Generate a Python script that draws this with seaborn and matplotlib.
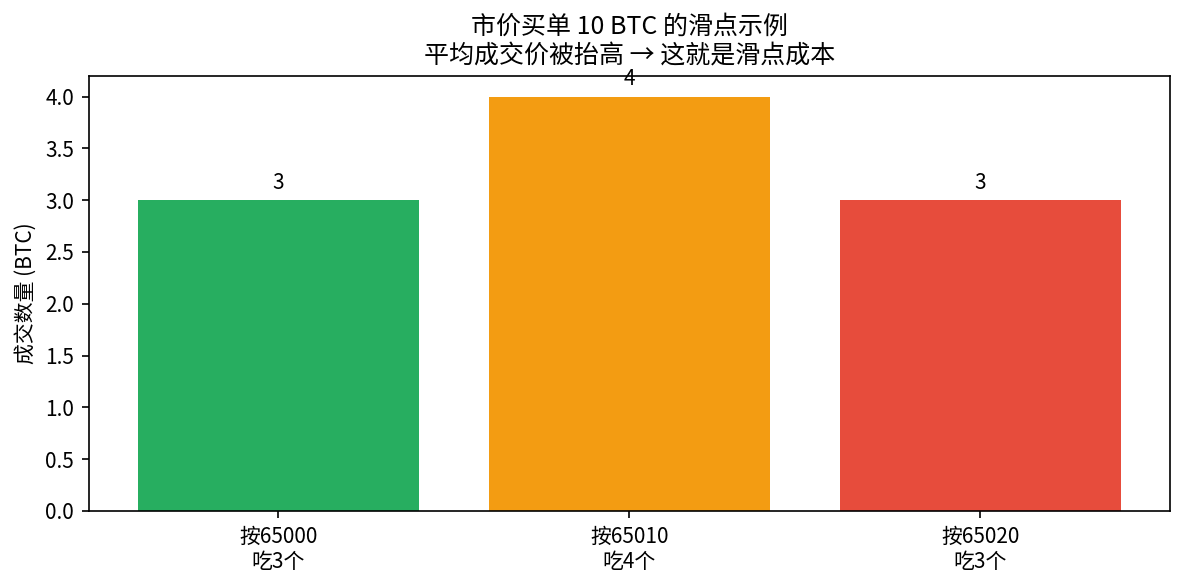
import matplotlib
matplotlib.use("Agg")
import matplotlib.pyplot as plt
import seaborn as sns
import pandas as pd

plt.rcParams['font.family'] = ['Noto Sans CJK SC', 'DejaVu Sans']
plt.rcParams['axes.unicode_minus'] = False

# price levels eaten by the market order
levels = ["按65000\n吃3个", "按65010\n吃4个", "按65020\n吃3个"]
qty = [3, 4, 3]
colors = ["#27ae60", "#f39c12", "#e74c3c"]

df = pd.DataFrame({"level": levels, "qty": qty})

fig, ax = plt.subplots(figsize=(1184 / 150, 588 / 150), dpi=150)
sns.barplot(data=df, x="level", y="qty", hue="level", palette=colors,
            legend=False, ax=ax, width=0.8, saturation=1)

for c in ax.containers:
    ax.bar_label(c, fmt="%g", padding=3)

ax.set_xlim(-0.54, 2.54)
ax.set_ylim(0, 4.2)
ax.set_xlabel("")
ax.set_ylabel("成交数量 (BTC)")
ax.set_title("市价买单 10 BTC 的滑点示例\n平均成交价被抬高 → 这就是滑点成本")

fig.subplots_adjust(left=0.075, right=0.988, top=0.871, bottom=0.131)
fig.savefig("out.png")
